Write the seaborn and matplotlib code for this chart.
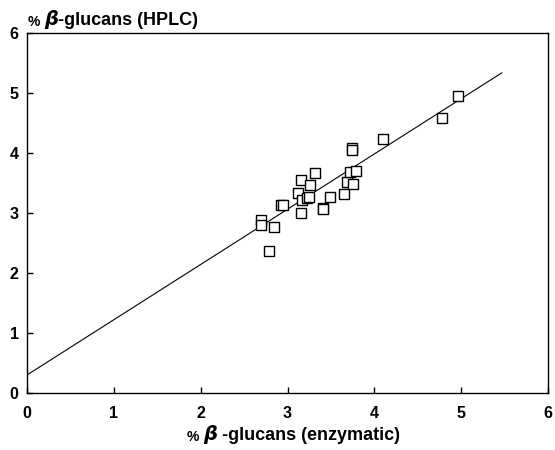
import matplotlib
matplotlib.use("Agg")
import matplotlib.pyplot as plt
import seaborn as sns
import numpy as np
import pandas as pd

# data
enzymatic = [2.69, 2.69, 2.85, 2.79, 2.92, 2.95, 3.12, 3.16, 3.16, 3.17, 3.23, 3.25,
             3.26, 3.32, 3.41, 3.41, 3.49, 3.65, 3.68, 3.72, 3.76, 3.79, 3.74, 3.74,
             4.10, 4.78, 4.96]
hplc = [2.88, 2.80, 2.77, 2.37, 3.14, 3.14, 3.34, 3.55, 3.00, 3.22, 3.25, 3.26,
        3.47, 3.67, 3.08, 3.06, 3.26, 3.32, 3.52, 3.69, 3.48, 3.70, 4.09, 4.05,
        4.23, 4.58, 4.95]
fit_intercept = 0.30
fit_slope = 0.921
fit_x_range = [0.0, 5.47]

x_ticks = [0, 1, 2, 3, 4, 5, 6]
y_ticks = [0, 1, 2, 3, 4, 5, 6]

sns.set_theme(style="white")
plt.rcParams['font.family'] = ['Liberation Sans', 'DejaVu Sans']
plt.rcParams['text.color'] = 'black'
plt.rcParams['xtick.color'] = 'black'
plt.rcParams['ytick.color'] = 'black'
plt.rcParams['xtick.labelcolor'] = 'black'
plt.rcParams['ytick.labelcolor'] = 'black'

fig = plt.figure(figsize=(5.55, 4.5), dpi=100)
ax = fig.add_axes([27/555, 1-393/450, (548-27)/555, (393-33)/450])

df = pd.DataFrame({"x": enzymatic, "y": hplc})
fx = np.array(fit_x_range)
fit_df = pd.DataFrame({"x": fx, "y": fit_intercept + fit_slope * fx})
sns.lineplot(data=fit_df, x="x", y="y", ax=ax, color="black", linewidth=0.8)
sns.scatterplot(data=df, x="x", y="y", ax=ax, marker="s", s=60,
                facecolor="white", edgecolor="black", linewidth=1.0, zorder=3)

ax.set_xlim(0, 6)
ax.set_ylim(0, 6)
ax.set_xticks(x_ticks)
ax.set_yticks(y_ticks)
ax.set_xticklabels([str(t) for t in x_ticks], fontsize=11.5, fontweight="bold", color="black")
ax.set_yticklabels([str(t) for t in y_ticks], fontsize=11.5, fontweight="bold", color="black")
ax.tick_params(axis="x", pad=9)
ax.tick_params(axis="y", pad=6)
ax.tick_params(direction="in", length=4, width=1, color="black",
               bottom=True, left=True, top=False, right=False)
for sp in ax.spines.values():
    sp.set_visible(True)
    sp.set_color("black")
    sp.set_linewidth(1.0)
ax.set_xlabel("")
ax.set_ylabel("")
ax.grid(False)

# y label (top-left, horizontal)
t1 = ax.annotate("% ", xy=(28/555, 1-26/450), xycoords="figure fraction",
                 fontsize=10, fontweight="bold", va="baseline", ha="left", color="black")
t2 = ax.annotate("β", xy=(1, 0), xycoords=t1, fontsize=14, fontweight="bold",
                 style="italic", family=["DejaVu Sans"], va="bottom", ha="left", color="black")
t3 = ax.annotate("-glucans (HPLC)", xy=(1, 0), xycoords=t2, fontsize=13,
                 fontweight="bold", va="bottom", ha="left", color="black")

# x label (centered below)
u1 = ax.annotate("% ", xy=(187/555, 1-441/450), xycoords="figure fraction",
                 fontsize=10, fontweight="bold", va="baseline", ha="left", color="black")
u2 = ax.annotate("β", xy=(1, 0), xycoords=u1, fontsize=14, fontweight="bold",
                 style="italic", family=["DejaVu Sans"], va="bottom", ha="left", color="black")
u3 = ax.annotate(" -glucans (enzymatic)", xy=(1, 0), xycoords=u2, fontsize=13,
                 fontweight="bold", va="bottom", ha="left", color="black")

fig.savefig("out.png", dpi=100)
